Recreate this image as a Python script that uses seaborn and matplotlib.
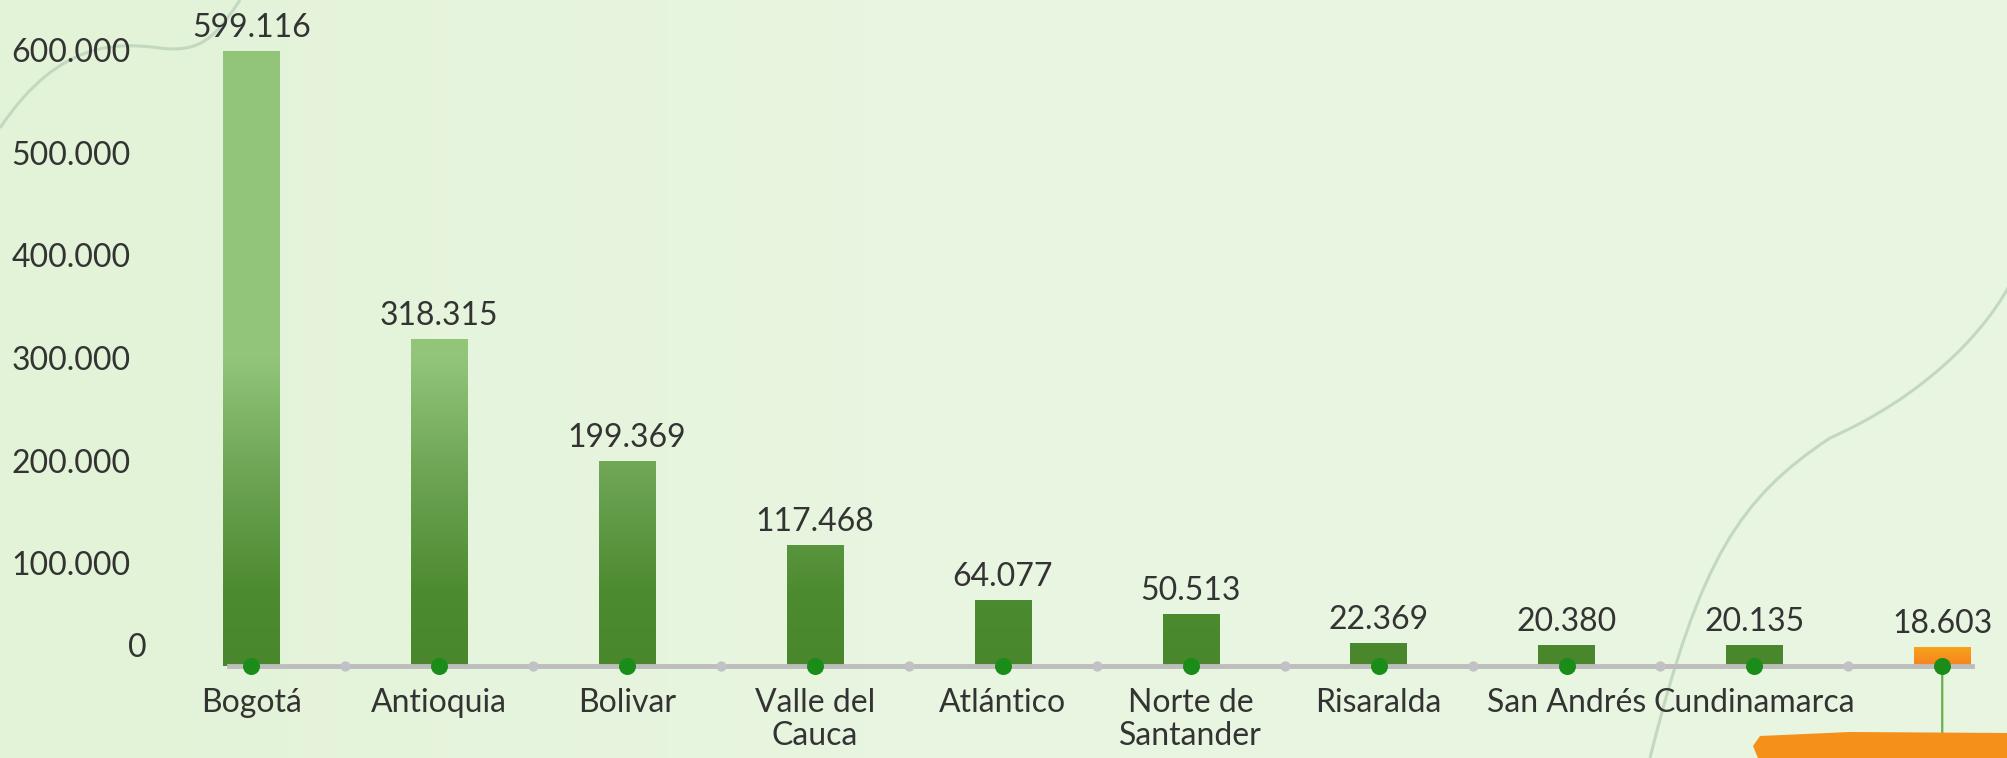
import numpy as np
import pandas as pd
import matplotlib.pyplot as plt
import seaborn as sns
from matplotlib.colors import LinearSegmentedColormap
from matplotlib.patches import FancyBboxPatch
from matplotlib.path import Path
from matplotlib.patches import PathPatch
from matplotlib.transforms import ScaledTranslation
from matplotlib.ticker import FuncFormatter

# ── Data ───────────────────────────────────────────────────
regions = ['Bogotá', 'Antioquia', 'Bolivar', 'Valle del\nCauca', 'Atlántico',
           'Norte de\nSantander', 'Risaralda', 'San Andrés', 'Cundinamarca', ' ']
visitors = [599116, 318315, 199369, 117468, 64077, 50513, 22369, 20380, 20135, 18603]
y_ticks = [0, 100000, 200000, 300000, 400000, 500000, 600000]
highlight = 9   # last bar drawn in orange

df = pd.DataFrame({'region': regions, 'visitors': visitors})

def dots(v):
    return f"{int(v):,}".replace(',', '.')

# ── Style ──────────────────────────────────────────────────
sns.set_theme(style='white')
plt.rcParams['font.family'] = ['Lato', 'DejaVu Sans']
text_color = '#333333'
bg_color = '#e7f5de'

fig = plt.figure(figsize=(20.08, 7.58), dpi=100, facecolor=bg_color)
W, H = 2008, 758

# soft background wash + faint decorative curves (pixel coords)
bg = fig.add_axes([0, 0, 1, 1], zorder=-10)
bg.axis('off')
wash = LinearSegmentedColormap.from_list('wash', ['#e2f3d7', '#e9f6e2', '#e8f5e0'])
bg.imshow(np.linspace(0, 1, 256).reshape(1, -1), cmap=wash, aspect='auto',
          extent=[0, W, 0, H])
curve_style = dict(facecolor='none', edgecolor='#c3d9bf', lw=2.2)
bg.add_patch(PathPatch(Path([(0, 630), (60, 720), (120, 715), (160, 710),
                             (200, 705), (215, 720), (240, 758)],
                            [1, 4, 4, 4, 4, 4, 4]), **curve_style))
bg.add_patch(PathPatch(Path([(1650, 0), (1700, 200), (1740, 260), (1830, 320),
                             (1920, 360), (1980, 420), (2008, 470)],
                            [1, 4, 4, 4, 4, 4, 4]), **curve_style))
bg.set_xlim(0, W)
bg.set_ylim(0, H)

left_px, bottom_px, top_px = 150, 92, 738
ax = fig.add_axes([left_px / W, bottom_px / H, 1 - left_px / W, (top_px - bottom_px) / H])
ax.set_facecolor('none')

sns.barplot(data=df, x='region', y='visitors', color='#5a9a3c', width=0.3,
            ax=ax, saturation=1)

y_top = 600000 * (top_px - bottom_px) / 616

# gradient fills clipped to each bar
green = LinearSegmentedColormap.from_list(
    'g', [(0, '#4a872c'), (0.12, '#4d8b30'), (0.3, '#6ba352'),
          (0.5, '#92c57a'), (1, '#93c67b')])
orange = LinearSegmentedColormap.from_list('o', ['#f5821f', '#f7a51c'])
grad = np.linspace(0, 1, 256).reshape(-1, 1)
for i, bar in enumerate(ax.patches):
    x0, w, h = bar.get_x(), bar.get_width(), bar.get_height()
    bar.set_edgecolor('none')
    if i == highlight:
        im = ax.imshow(grad, cmap=orange, origin='lower', aspect='auto',
                       extent=[x0, x0 + w, 0, h], zorder=2)
    else:
        im = ax.imshow(grad, cmap=green, origin='lower', aspect='auto',
                       extent=[x0, x0 + w, 0, 600000], zorder=2)
    im.set_clip_path(bar)

# value labels
ax.bar_label(ax.containers[0], labels=[dots(v) for v in visitors], padding=6,
             fontsize=23, color=text_color)

# baseline with dots
ax.spines[['left', 'right', 'top']].set_visible(False)
ax.spines['bottom'].set_color('#bdbdbd')
ax.spines['bottom'].set_linewidth(3.5)
ax.spines['bottom'].set_bounds(-0.12, 9.16)
ax.spines['bottom'].set_zorder(3)
ax.set_xlim(-0.54, 9.35)
ax.set_ylim(0, y_top)

pos = np.arange(len(regions))
ax.scatter(pos[:-1] + 0.5, np.zeros(len(regions) - 1), s=55, color='#c2c2c6',
           zorder=4, clip_on=False, linewidths=0)
ax.scatter(pos, np.zeros(len(regions)), s=150, color='#1a8c1a', zorder=5,
           clip_on=False, linewidths=0)

# thin leader line under the highlighted bar + orange brush stroke
ax.annotate('', xy=(highlight, 0), xytext=(0, -68), textcoords='offset pixels',
            arrowprops=dict(arrowstyle='-', color='#6aae4e', lw=1.6,
                            shrinkA=0, shrinkB=0), zorder=1)
stroke = PathPatch(Path([(1753, 12), (1760, 22), (1850, 26), (2008, 25),
                         (2008, -5), (1760, -5), (1753, 12)],
                        [1, 2, 2, 2, 2, 2, 79]),
                   transform=None, facecolor='#f5901a', edgecolor='none', zorder=0)
fig.patches.append(stroke)

# axes text
ax.set_xlabel('')
ax.set_ylabel('')
ax.set_yticks(y_ticks)
ax.yaxis.set_major_formatter(FuncFormatter(lambda v, p: dots(v)))
ax.tick_params(axis='y', length=0, pad=14, labelsize=23, labelcolor=text_color)
ax.tick_params(axis='x', length=0, pad=16, labelsize=23, labelcolor=text_color)
for lab in ax.get_xticklabels():
    lab.set_linespacing(1.1)
zero = ax.get_yticklabels()[0]
zero.set_transform(zero.get_transform() + ScaledTranslation(0.16, 0.21, fig.dpi_scale_trans))

fig.savefig('out.png', dpi=100, facecolor=bg_color)
